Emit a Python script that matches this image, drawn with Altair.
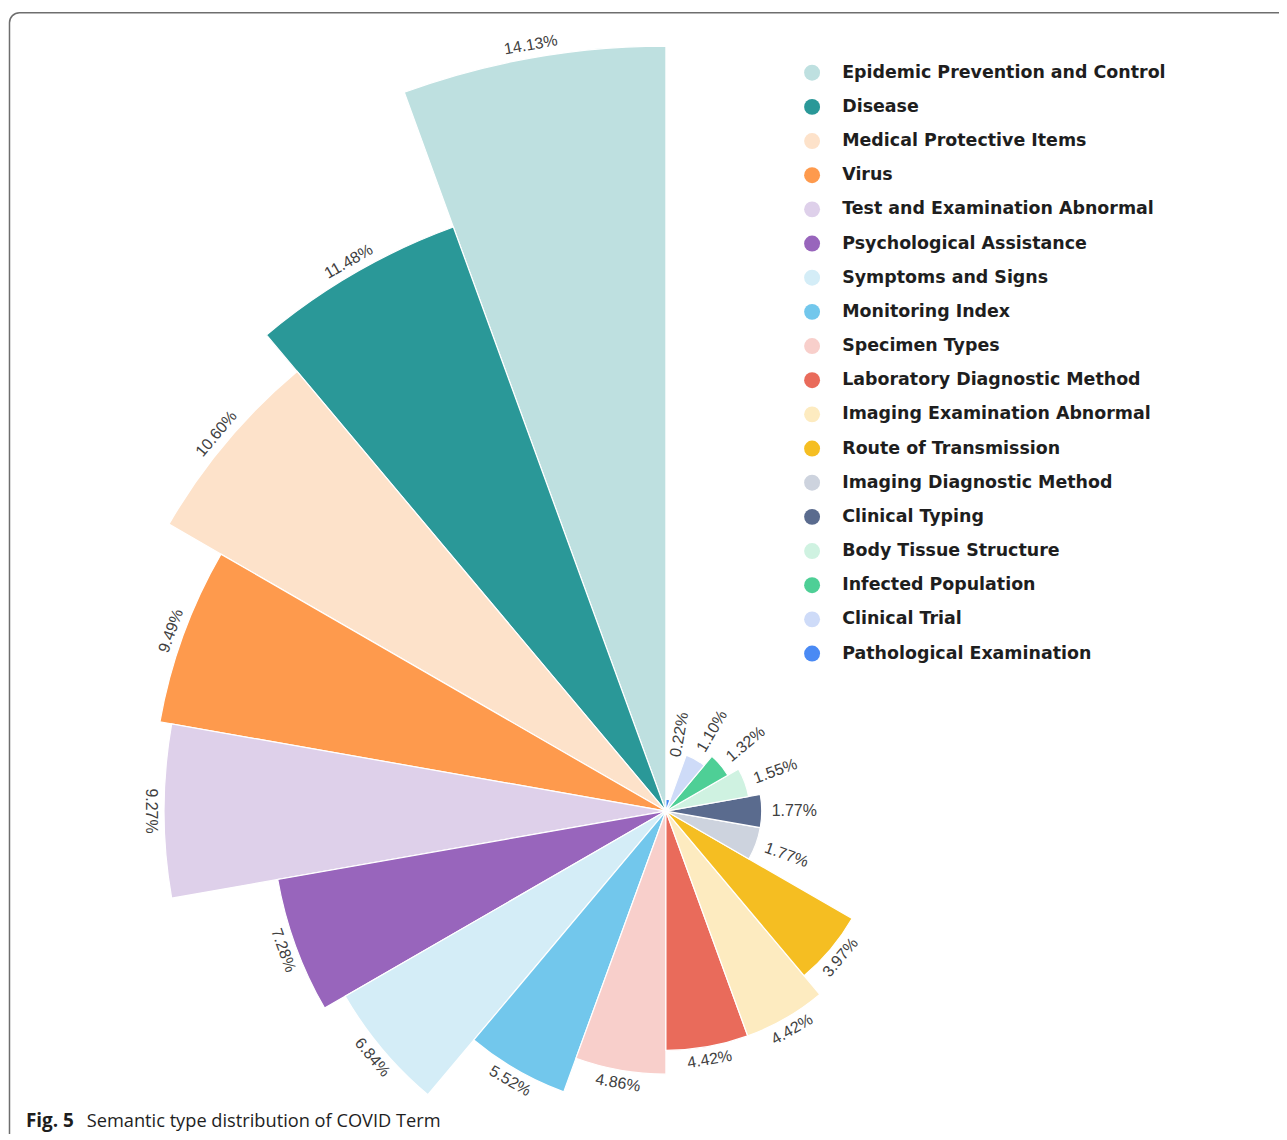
import altair as alt
import pandas as pd

categories = [
    "Epidemic Prevention and Control", "Disease", "Medical Protective Items", "Virus",
    "Test and Examination Abnormal", "Psychological Assistance", "Symptoms and Signs",
    "Monitoring Index", "Specimen Types", "Laboratory Diagnostic Method",
    "Imaging Examination Abnormal", "Route of Transmission", "Imaging Diagnostic Method",
    "Clinical Typing", "Body Tissue Structure", "Infected Population", "Clinical Trial",
    "Pathological Examination",
]
values = [14.13, 11.48, 10.60, 9.49, 9.27, 7.28, 6.84, 5.52, 4.86, 4.42, 4.42, 3.97,
          1.77, 1.77, 1.55, 1.32, 1.10, 0.22]
colors = [
    "#bee0e0", "#2a9898", "#fde2ca", "#fe9a4d", "#ded0ea", "#9865bc", "#d4edf7",
    "#72c7ec", "#f8cfcb", "#e96b5b", "#fdebc0", "#f5be22", "#cdd3de", "#5a6b8e",
    "#cff2e1", "#4ecf96", "#cedbf8", "#4a8af4",
]
caption_bold = ["Fig. 5"]
caption_rest = ["Semantic type distribution of COVID Term"]

n = len(categories)
df = pd.DataFrame({
    "cat": categories,
    "value": values,
    "slot": list(range(n - 1, -1, -1)),  # clockwise position from 12 o'clock
})

CX, CY = 660.5, 804
R = 768
theta_scale = alt.Scale(domain=[0, n], range=[0, 6.283185307179586])
radius_scale = alt.Scale(type="linear", domain=[0, max(values)], range=[0, R])

base = alt.Chart(df).transform_calculate(
    t1="datum.slot + 1",
    mid="datum.slot + 0.5",
    mdeg="(datum.slot + 0.5) * 360 / " + str(n),
    lbl="format(datum.value, '.2f') + '%'",
    lr="max(datum.value, 0.83)",
)

arcs = base.mark_arc(x=CX, y=CY, stroke="white", strokeWidth=1.2).encode(
    theta=alt.Theta("slot:Q", scale=theta_scale, stack=False),
    theta2="t1:Q",
    radius=alt.Radius("value:Q", scale=radius_scale),
    color=alt.Color(
        "cat:N",
        scale=alt.Scale(domain=categories, range=colors),
        legend=alt.Legend(
            orient="none", legendX=798.5, legendY=54, title=None,
            symbolType="circle", symbolSize=256, symbolStrokeWidth=0, symbolOpacity=1,
            labelFont="DejaVu Sans", labelFontWeight="bold", labelFontSize=17.5,
            labelColor="#1e1e1e", labelOffset=21.5, rowPadding=15.3, labelLimit=500,
            padding=0,
        ),
    ),
)

tan_text = base.transform_filter("datum.value >= 2").transform_calculate(
    rot="datum.mdeg > 90 && datum.mdeg <= 270 ? datum.mdeg - 180 : datum.mdeg"
).mark_text(
    x=CX, y=CY, radiusOffset=13, align="center", baseline="middle",
    font="Liberation Sans", fontSize=16, color="#404040",
).encode(
    theta=alt.Theta("mid:Q", scale=theta_scale, stack=False),
    radius=alt.Radius("lr:Q", scale=radius_scale),
    angle=alt.Angle("rot:Q", scale=None),
    text="lbl:N",
)

rad_text = base.transform_filter("datum.value < 2").transform_calculate(
    rot="(datum.mdeg - 90 + 360) % 360"
).mark_text(
    x=CX, y=CY, radiusOffset=10, align="left", baseline="middle",
    font="Liberation Sans", fontSize=16, color="#404040",
).encode(
    theta=alt.Theta("mid:Q", scale=theta_scale, stack=False),
    radius=alt.Radius("lr:Q", scale=radius_scale),
    angle=alt.Angle("rot:Q", scale=None),
    text="lbl:N",
)

cap1 = alt.Chart(pd.DataFrame({"t": caption_bold})).mark_text(
    align="left", baseline="alphabetic", font="Open Sans", fontWeight="bold",
    fontSize=19, color="#1e1e1e",
).encode(x=alt.value(18), y=alt.value(1121), text="t:N")

cap2 = alt.Chart(pd.DataFrame({"t": caption_rest})).mark_text(
    align="left", baseline="alphabetic", font="Open Sans",
    fontSize=18.3, color="#1e1e1e",
).encode(x=alt.value(79), y=alt.value(1121), text="t:N")

frame = alt.Chart(pd.DataFrame({"t": ["frame"]})).mark_rect(
    fillOpacity=0, stroke="#6e6e6e", strokeWidth=1.5, cornerRadius=10,
).encode(x=alt.value(1.5), y=alt.value(2.5), x2=alt.value(1400), y2=alt.value(1400))

chart = alt.layer(frame, arcs, tan_text, rad_text, cap1, cap2).properties(
    width=1276, height=1126, padding=0,
    autosize=alt.AutoSizeParams(type="none"),
).configure_view(strokeWidth=0)

chart.save("out.html", embed_options={"renderer": "svg", "actions": False})
